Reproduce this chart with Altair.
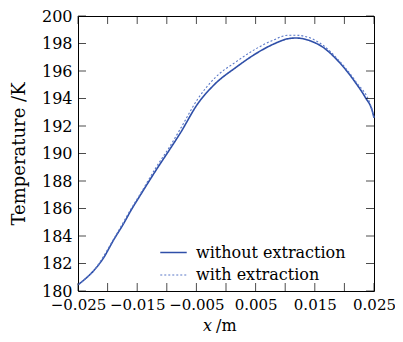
import altair as alt
import pandas as pd

# Data
x_without = [-0.025, -0.024, -0.0223, -0.0207, -0.019, -0.0173, -0.016, -0.0145, -0.0118, -0.0095,
             -0.0077, -0.0048, -0.002, 0.0018, 0.005, 0.008, 0.0105, 0.0118, 0.0145, 0.0163,
             0.019, 0.0218, 0.0235, 0.0247, 0.025]
y_without = [180.45, 180.8, 181.5, 182.4, 183.7, 184.9, 185.9, 186.95, 188.8, 190.3,
             191.5, 193.6, 195.0, 196.3, 197.25, 197.95, 198.35, 198.4, 198.15, 197.75,
             196.7, 195.2, 194.1, 193.1, 192.6]

x_with = [-0.025, -0.0223, -0.019, -0.016, -0.0145, -0.0118, -0.0095, -0.0077, -0.0048, -0.002,
          0.0018, 0.005, 0.008, 0.0105, 0.0118, 0.0145, 0.0163, 0.019, 0.0218, 0.0247, 0.025]
y_with = [180.45, 181.5, 183.75, 186.0, 187.05, 189.0, 190.5, 191.8, 193.95, 195.45,
          196.7, 197.6, 198.25, 198.6, 198.6, 198.35, 197.9, 196.8, 195.3, 193.15, 192.6]

series_names = ["without extraction", "with extraction"]
x_label_values = [-0.025, -0.015, -0.005, 0.005, 0.015, 0.025]
x_tick_values = [-0.025, -0.02, -0.015, -0.01, -0.005, 0.0, 0.005, 0.01, 0.015, 0.02, 0.025]
y_tick_values = [180, 182, 184, 186, 188, 190, 192, 194, 196, 198, 200]

df = pd.concat([
    pd.DataFrame({"x": x_without, "T": y_without, "series": series_names[0], "order": range(len(x_without))}),
    pd.DataFrame({"x": x_with, "T": y_with, "series": series_names[1], "order": range(len(x_with))}),
])

FONT = "DejaVu Serif"
xscale = alt.Scale(domain=[-0.025, 0.025], nice=False, zero=False)
yscale = alt.Scale(domain=[180, 200], nice=False, zero=False)
xaxis = alt.Axis(values=x_label_values, format=".3f", title=None, labelPadding=6,
                 labelOverlap=False, labelFlush=False, labelFontSize=15)
yaxis = alt.Axis(values=y_tick_values, title="Temperature /K", labelPadding=6,
                 labelOverlap=False, labelFlush=False,
                 titlePadding=13, titleFontSize=18, titleFontWeight="normal",
                 titleFont=FONT, titleColor="black")


def leg():
    return alt.Legend(title=None, orient="none", legendX=81, legendY=222,
                      symbolType="stroke", symbolSize=700, labelFont=FONT,
                      labelFontSize=16, labelColor="black", rowPadding=0,
                      labelOffset=8, symbolStrokeWidth=1.5)


lines = alt.Chart(df).mark_line(interpolate="monotone").encode(
    x=alt.X("x:Q", scale=xscale, axis=xaxis),
    y=alt.Y("T:Q", scale=yscale, axis=yaxis),
    order="order:Q",
    color=alt.Color("series:N", scale=alt.Scale(domain=series_names, range=["#2f4fa8", "#5a78c8"]),
                    legend=leg()),
    strokeDash=alt.StrokeDash("series:N", scale=alt.Scale(domain=series_names, range=[[1, 0], [2, 2]]),
                              legend=leg()),
    strokeWidth=alt.StrokeWidth("series:N", scale=alt.Scale(domain=series_names, range=[1.6, 1.1]),
                                legend=leg()),
)

xt = pd.DataFrame({"x": x_tick_values})
yt = pd.DataFrame({"T": y_tick_values})
tick_len = 4
bottom_ticks = alt.Chart(xt).mark_tick(orient="vertical", size=tick_len * 2, yOffset=-tick_len, color="black", thickness=1).encode(
    x=alt.X("x:Q", scale=xscale, axis=xaxis), y=alt.YDatum(180, scale=yscale, axis=yaxis))
top_ticks = alt.Chart(xt).mark_tick(orient="vertical", size=tick_len * 2, yOffset=tick_len, color="black", thickness=1).encode(
    x=alt.X("x:Q", scale=xscale, axis=xaxis), y=alt.YDatum(200, scale=yscale, axis=yaxis))
left_ticks = alt.Chart(yt).mark_tick(orient="horizontal", size=tick_len * 2, xOffset=tick_len, color="black", thickness=1).encode(
    y=alt.Y("T:Q", scale=yscale, axis=yaxis), x=alt.XDatum(-0.025, scale=xscale, axis=xaxis))
right_ticks = alt.Chart(yt).mark_tick(orient="horizontal", size=tick_len * 2, xOffset=-tick_len, color="black", thickness=1).encode(
    y=alt.Y("T:Q", scale=yscale, axis=yaxis), x=alt.XDatum(0.025, scale=xscale, axis=xaxis))

xtitle_x = alt.Chart(pd.DataFrame({"t": ["x"]})).mark_text(
    font=FONT, fontSize=16, fontStyle="italic", align="left", baseline="alphabetic", color="black"
).encode(text="t:N", x=alt.value(125), y=alt.value(315))
xtitle_m = alt.Chart(pd.DataFrame({"t": ["/m"]})).mark_text(
    font=FONT, fontSize=16, align="left", baseline="alphabetic", color="black"
).encode(text="t:N", x=alt.value(138), y=alt.value(315))

chart = alt.layer(lines, bottom_ticks, top_ticks, left_ticks, right_ticks, xtitle_x, xtitle_m).properties(
    width=296, height=275,
    autosize=alt.AutoSizeParams(type="none"),
    padding={"left": 70, "top": 8, "right": 21, "bottom": 43},
    background="white",
).configure_view(stroke="black", strokeWidth=1).configure_axis(
    grid=False, ticks=False, domain=False, labelFont=FONT, labelFontSize=16, labelColor="black",
    labelOverlap=False
)

chart.save("out.html", embed_options={"renderer": "svg", "actions": False})
